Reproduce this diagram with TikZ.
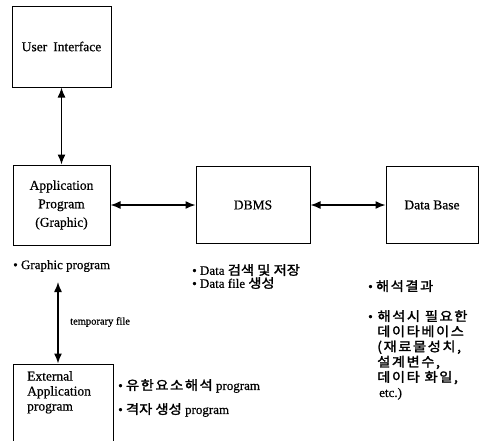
\documentclass[tikz,border=0pt]{standalone}
\usepackage{fontspec}
\setmainfont{Liberation Serif}[FakeBold=0.6]
\newfontfamily\kr{Noto Sans CJK KR}[FakeBold=1.8,FakeStretch=1.1]
\newfontfamily\krwide{Noto Sans CJK KR}[FakeBold=1.8,FakeStretch=1.1,LetterSpace=12]
\usetikzlibrary{arrows.meta}
\begin{document}
\begin{tikzpicture}[x=1pt,y=-1pt,
  box/.style={draw,line width=1pt,minimum width=#1,inner sep=0pt,align=center,font=\fontsize{13.5}{18.5}\selectfont},
  link/.style={line width=1.4pt,{Latex[length=10pt,width=8pt]}-{Latex[length=10pt,width=8pt]}},
  note/.style={anchor=west,inner sep=0pt,align=left,font=\fontsize{13}{14}\selectfont},
  krnote/.style={anchor=north west,inner sep=0pt,align=left,font=\fontsize{13}{15.2}\selectfont\krwide}]
\useasboundingbox (0,0) rectangle (480,440);
\begin{scope}
\clip (0,0) rectangle (480,440);

% main blocks
\node[box=99, minimum height=81] (ui) at (61.5,46.5) {User\hspace{0.45em}Interface};
\node[box=97, minimum height=80] (app) at (61.5,205) {Application\\Program\\(Graphic)};
\node[box=114, minimum height=77] (dbms) at (253,205) {DBMS};
\node[box=92, minimum height=77] (db) at (432,205) {Data Base};
\node[box=100, minimum height=84] (ext) at (63,406) {};
\node[anchor=north west,inner sep=0pt,align=left,font=\fontsize{13.5}{15}\selectfont] (exttxt) at (27,371) {External\\Application\\program};

% connectors
\draw[link] (ui.south) -- (app.north);
\draw[link] (app.east) -- (dbms.west);
\draw[link] (dbms.east) -- (db.west);
\coordinate (gtop) at (58,282);
\draw[link] (gtop) -- (gtop |- ext.north);
\node[anchor=west,inner sep=0pt,font=\fontsize{10.5}{12}\selectfont] (tmp) at (70,322) {temporary file};

% notes
\node[note] (gp) at (13,266) {• Graphic program};
\node[note] (d1) at (192,270) {• Data {\kr 검색 및 저장}};
\node[note] (d2) at (192,283) {• Data file {\kr 생성}};
\node[note] (r1) at (368,286) {• {\fontsize{13}{15}\selectfont\krwide 해석결과}};
\node[krnote] (r2) at (368,310) {{\rmfamily •} 해석시 필요한\\
\hspace{9pt}데이타베이스\\
\hspace{9pt}(재료물성치,\\
\hspace{9pt}설계변수,\\
\hspace{9pt}데이타 화일,\\
\hspace{11pt}{\rmfamily etc.)}};
\node[note] (e1) at (118,386) {• {\krwide 유한요소해석} program};
\node[note] (e2) at (118,410) {• {\kr 격자 생성} program};
\end{scope}
\end{tikzpicture}
\end{document}
